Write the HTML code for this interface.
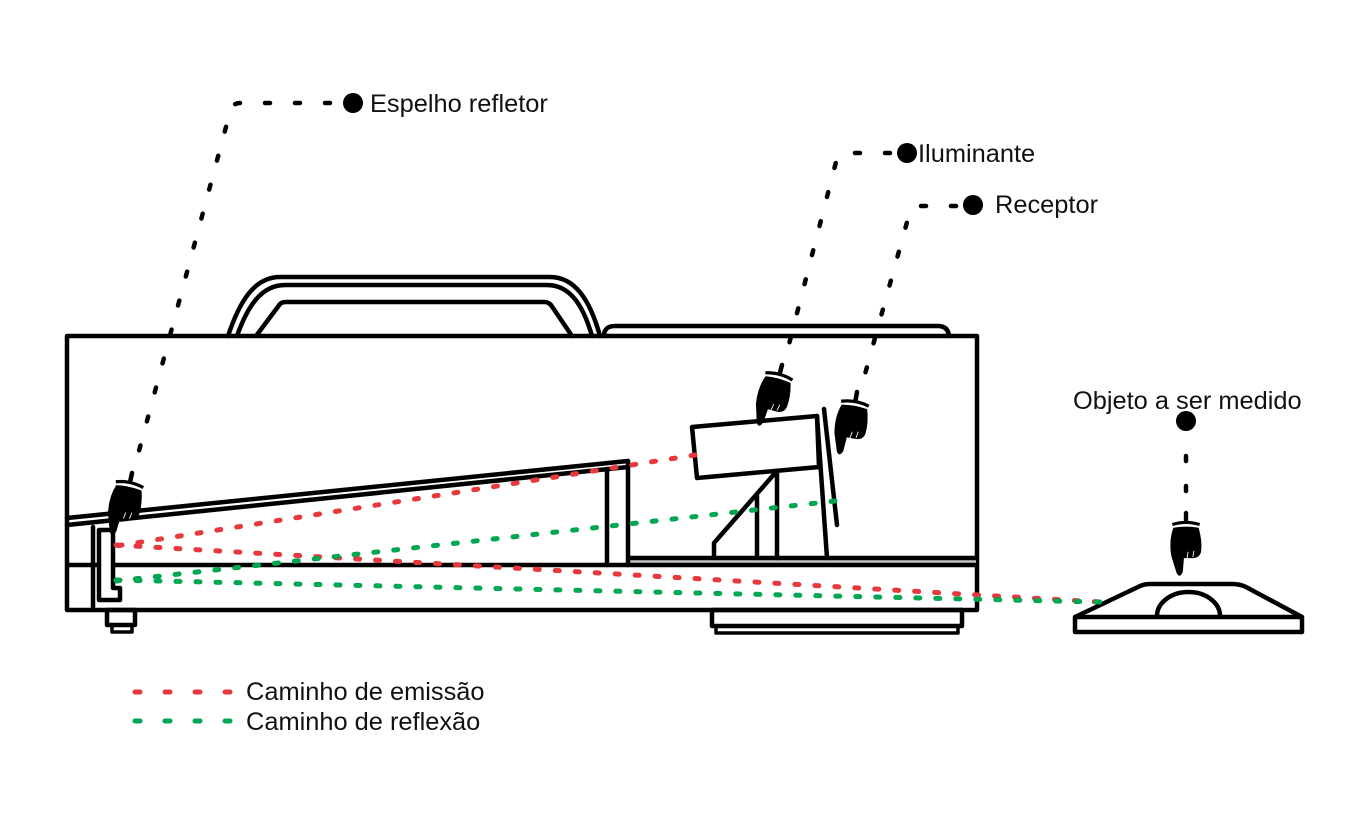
<!DOCTYPE html>
<html>
<head>
<meta charset="utf-8">
<style>
  html, body { margin: 0; padding: 0; background: #ffffff; }
  svg { display: block; }
  text { font-family: "Liberation Sans", Arial, sans-serif; font-size: 25.4px; fill: #111111; }
</style>
</head>
<body>
<svg width="1369" height="823" viewBox="0 0 1369 823" xmlns="http://www.w3.org/2000/svg">
  <rect x="0" y="0" width="1369" height="823" fill="#ffffff"/>

  <!-- ===== Main device structure ===== -->
  <g fill="none" stroke="#000" stroke-width="4.5" stroke-linejoin="round" stroke-linecap="round">
    <!-- handle -->
    <path d="M 228 336 C 240 300 255 277 280 277 L 550 277 C 575 277 590 300 600 336"/>
    <path d="M 237 336 C 248 305 262 285 285 285 L 547 285 C 570 285 583 305 592 336"/>
    <path d="M 256 336 L 280 304 Q 282 302 286 302 L 545 302 Q 548 302 551 305 L 572 336"/>
    <!-- raised top plate -->
    <path d="M 604 336 Q 604 326 615 326 L 938 326 Q 948 326 949 336"/>

    <!-- main box -->
    <rect x="67" y="336" width="910" height="274"/>

    <!-- feet -->
    <rect x="107" y="610" width="28" height="15"/>
    <rect x="112" y="625" width="20" height="7" stroke-width="3.5"/>
    <rect x="712" y="610" width="250" height="16"/>
    <rect x="716" y="626" width="242" height="7" stroke-width="3.5"/>
  </g>

  <!-- shelf lines -->
  <line x1="630" y1="561.5" x2="976" y2="561.5" stroke="#c4c4c4" stroke-width="3"/>
  <g fill="none" stroke="#000" stroke-width="4.5" stroke-linecap="butt">
    <line x1="67" y1="565" x2="977" y2="565"/>
    <line x1="628" y1="558" x2="977" y2="558"/>
  </g>

  <g fill="none" stroke="#000" stroke-width="4.5" stroke-linejoin="round" stroke-linecap="round">
    <!-- tilted tube -->
    <line x1="67" y1="518" x2="628" y2="461"/>
    <line x1="67" y1="525" x2="628" y2="467"/>
    <line x1="607" y1="469" x2="607" y2="565"/>
    <line x1="628" y1="461" x2="628" y2="565"/>

    <!-- left vertical + mirror bracket -->
    <line x1="93" y1="527" x2="93" y2="610"/>
    <path d="M 99 530 L 113 530 L 113 588 L 120 588 L 120 600 L 99 600 Z" fill="#fff"/>

    <!-- illuminant box -->
    <path d="M 692 427 L 817 416 L 819 467 L 697 478 Z" fill="#fff"/>
    <line x1="817" y1="416" x2="827" y2="558"/>
    <!-- stand -->
    <line x1="777" y1="471" x2="777" y2="558"/>
    <path d="M 776 472 L 714 543 L 714 558"/>
    <line x1="757" y1="496" x2="757" y2="558"/>
    <!-- receptor plate -->
    <line x1="824" y1="409" x2="837" y2="525"/>
  </g>

  <!-- ===== Measured object ===== -->
  <g fill="none" stroke="#000" stroke-width="4.5" stroke-linejoin="round">
    <path d="M 1075 617 L 1138 587 Q 1143 584 1150 584 L 1232 584 Q 1240 584 1246 587 L 1302 617"/>
    <rect x="1075" y="617" width="227" height="15"/>
    <path d="M 1157 616 A 31.5 24 0 0 1 1220 616"/>
  </g>

  <!-- ===== Light paths ===== -->
  <g fill="none" stroke-width="5" stroke-linecap="round" stroke-dasharray="4 16">
    <line x1="695" y1="455" x2="116" y2="546" stroke="#e6393d"/>
    <line x1="116" y1="545" x2="1100" y2="602" stroke="#e6393d"/>
    <line x1="835" y1="501" x2="116" y2="581" stroke="#00a651"/>
    <line x1="116" y1="580" x2="1100" y2="602" stroke="#00a651"/>
  </g>

  <!-- ===== Leader lines (black dotted) ===== -->
  <g fill="none" stroke="#000" stroke-width="4.5" stroke-linecap="round" stroke-dasharray="5 25">
    <path d="M 330 103 L 240 103 Q 232 103 230 112 L 136 462"/>
    <path d="M 890 153 L 845 153 Q 838 153 836 162 L 787 352"/>
    <path d="M 956 206 L 918 206 Q 911 206 909 215 L 862 385"/>
    <path d="M 1186 456 L 1186 495"/>
  </g>

  <!-- dots -->
  <g fill="#000">
    <circle cx="353" cy="103" r="10"/>
    <circle cx="907" cy="153" r="10"/>
    <circle cx="973" cy="205" r="10"/>
    <circle cx="1186" cy="421" r="10"/>
  </g>

  <!-- ===== Hands ===== -->
  <g transform="translate(782 365) rotate(15) scale(1.08)">
    <line x1="0" y1="0" x2="0" y2="7" stroke="#000" stroke-width="4.2" stroke-linecap="round"/>
    <path d="M -13 11 Q 0 7 13 11" fill="none" stroke="#000" stroke-width="3"/>
    <path d="M -12 14 Q 0 12 12 14 Q 15.5 26 14.5 36 Q 13.5 43 6 43 L -2 43 L -3 56 Q -6 63 -9 57 L -14 41 Q -16.5 26 -12 14 Z" fill="#000"/>
    <path d="M 1 43 L 2 37 M 6.5 42 L 7.5 36" stroke="#fff" stroke-width="0.8"/>
  </g>
  <g transform="translate(857 392) rotate(10) scale(1.08)">
    <line x1="0" y1="0" x2="0" y2="7" stroke="#000" stroke-width="4.2" stroke-linecap="round"/>
    <path d="M -13 11 Q 0 7 13 11" fill="none" stroke="#000" stroke-width="3"/>
    <path d="M -12 14 Q 0 12 12 14 Q 15.5 26 14.5 36 Q 13.5 43 6 43 L -2 43 L -3 56 Q -6 63 -9 57 L -14 41 Q -16.5 26 -12 14 Z" fill="#000"/>
    <path d="M 1 43 L 2 37 M 6.5 42 L 7.5 36" stroke="#fff" stroke-width="0.8"/>
  </g>
  <g transform="translate(132 473) rotate(12) scale(1.08)">
    <line x1="0" y1="0" x2="0" y2="7" stroke="#000" stroke-width="4.2" stroke-linecap="round"/>
    <path d="M -13 11 Q 0 7 13 11" fill="none" stroke="#000" stroke-width="3"/>
    <path d="M -12 14 Q 0 12 12 14 Q 15.5 26 14.5 36 Q 13.5 43 6 43 L -2 43 L -3 56 Q -6 63 -9 57 L -14 41 Q -16.5 26 -12 14 Z" fill="#000"/>
    <path d="M 1 43 L 2 37 M 6.5 42 L 7.5 36" stroke="#fff" stroke-width="0.8"/>
  </g>
  <g transform="translate(1186 513) scale(1.05)">
    <line x1="0" y1="0" x2="0" y2="7" stroke="#000" stroke-width="4.2" stroke-linecap="round"/>
    <path d="M -13 11 Q 0 7 13 11" fill="none" stroke="#000" stroke-width="3"/>
    <path d="M -12 14 Q 0 12 12 14 Q 15.5 26 14.5 36 Q 13.5 43 6 43 L -2 43 L -3 56 Q -6 63 -9 57 L -14 41 Q -16.5 26 -12 14 Z" fill="#000"/>
    <path d="M 1 43 L 2 37 M 6.5 42 L 7.5 36" stroke="#fff" stroke-width="0.8"/>
  </g>

  <!-- ===== Labels ===== -->
  <text x="370" y="112">Espelho refletor</text>
  <text x="918" y="162">Iluminante</text>
  <text x="995" y="213">Receptor</text>
  <text x="1073" y="409">Objeto a ser medido</text>

  <!-- ===== Legend ===== -->
  <g fill="none" stroke-width="5" stroke-linecap="round" stroke-dasharray="5 25">
    <line x1="135" y1="692" x2="232" y2="692" stroke="#e6393d"/>
    <line x1="135" y1="721" x2="232" y2="721" stroke="#00a651"/>
  </g>
  <text x="246" y="700">Caminho de emissão</text>
  <text x="246" y="730">Caminho de reflexão</text>
</svg>
</body>
</html>
